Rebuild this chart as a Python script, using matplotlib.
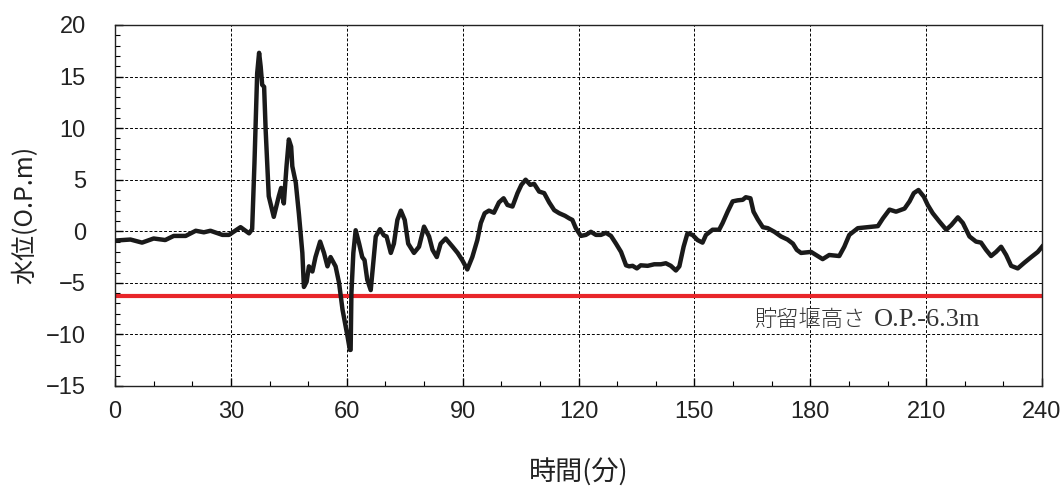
import matplotlib
matplotlib.use("Agg")
import matplotlib.pyplot as plt
from matplotlib.ticker import MultipleLocator

plt.rcParams['font.family'] = ['Liberation Sans', 'Noto Sans CJK JP', 'DejaVu Sans']
plt.rcParams['axes.unicode_minus'] = True

# Elapsed time (min) and water level (O.P.m)
time_min = [0, 4, 7, 10, 13, 15.2, 18.3, 20.9, 23, 24.7, 27.8, 29.5, 32.5, 34.7, 35.5,
            36.1, 36.8, 37.3, 37.7, 38.1, 38.6, 39.0, 39.8, 41.1, 42.4, 43.0, 43.7, 44.4,
            45.0, 45.6, 45.9, 46.8, 47.6, 48.5, 48.9, 49.6, 50.2, 51.1, 51.9, 53.1, 54.1,
            55.0, 55.8, 57.1, 58.0, 58.9, 60.2, 60.8, 61.0, 61.2, 61.7, 62.3, 63.2, 64.0,
            64.6, 65.3, 66.2, 66.6, 67.5, 68.6, 69.6, 70.3, 71.4, 72.2, 73.1, 74.0, 75.0,
            75.9, 77.4, 78.7, 80.0, 81.3, 82.2, 83.3, 84.3, 85.6, 87.4, 88.7, 89.9, 91.2,
            92.5, 93.8, 94.7, 95.7, 96.8, 98.1, 99.4, 100.6, 101.6, 102.9, 104.2, 105.2,
            106.3, 107.5, 108.5, 109.8, 111.1, 112.4, 113.7, 115.0, 116.5, 117.6, 118.4,
            119.3, 120.6, 121.9, 123.2, 124.5, 125.8, 127.1, 128.4, 129.7, 131.0, 132.3,
            133.1, 134.0, 135.1, 136.1, 137.9, 139.6, 141.3, 142.6, 143.9, 145.2, 146.1,
            147.2, 148.2, 149.5, 150.8, 152.1, 153.0, 154.7, 156.4, 157.3, 158.6, 159.9,
            161.2, 162.5, 163.3, 164.5, 165.3, 166.4, 167.7, 169.0, 170.7, 172.4, 174.1,
            175.5, 176.5, 177.6, 180.2, 181.5, 183.2, 184.9, 187.5, 188.8, 190.1, 192.3,
            194.9, 197.5, 198.8, 200.5, 202.2, 204.4, 205.7, 206.8, 208.0, 209.4, 210.4,
            211.7, 213.4, 215.2, 216.5, 218.2, 219.5, 221.2, 222.9, 224.2, 225.5, 226.8,
            228.1, 229.4, 230.7, 232.0, 233.7, 235.4, 237.2, 238.9, 240.0]
water_level = [-0.9, -0.8, -1.1, -0.7, -0.85, -0.45, -0.45, 0.05, -0.1, 0.05, -0.35, -0.35,
               0.4, -0.2, 0.2, 6.6, 15.3, 17.3, 16.0, 14.2, 14.0, 9.8, 3.4, 1.4, 3.4, 4.2,
               2.7, 6.3, 8.9, 8.2, 6.3, 4.7, 1.7, -2.1, -5.4, -4.9, -3.4, -3.9, -2.5, -1.0,
               -2.1, -3.4, -2.5, -3.4, -5.0, -7.6, -10.2, -11.5, -11.5, -6.0, -2.1, 0.1,
               -1.2, -2.5, -2.8, -4.7, -5.7, -4.1, -0.5, 0.2, -0.4, -0.5, -2.1, -1.2, 1.1,
               2.0, 1.1, -1.2, -2.1, -1.5, 0.45, -0.5, -1.8, -2.5, -1.2, -0.7, -1.5, -2.1,
               -2.8, -3.7, -2.5, -0.85, 0.8, 1.75, 2.0, 1.8, 2.8, 3.2, 2.55, 2.4, 3.7, 4.5,
               5.0, 4.5, 4.6, 3.85, 3.7, 2.8, 2.05, 1.75, 1.5, 1.25, 1.1, 0.3, -0.45, -0.35,
               -0.05, -0.35, -0.35, -0.15, -0.45, -1.2, -2.0, -3.3, -3.4, -3.35, -3.6, -3.3,
               -3.35, -3.2, -3.2, -3.1, -3.35, -3.8, -3.4, -1.5, -0.2, -0.35, -0.85, -1.1,
               -0.35, 0.15, 0.15, 0.8, 1.9, 2.9, 3.0, 3.05, 3.3, 3.2, 1.9, 1.15, 0.4, 0.3,
               -0.05, -0.5, -0.8, -1.2, -1.8, -2.1, -2.0, -2.3, -2.7, -2.3, -2.4, -1.5,
               -0.35, 0.3, 0.4, 0.5, 1.25, 2.1, 1.9, 2.2, 2.9, 3.7, 4.0, 3.35, 2.55, 1.75,
               0.95, 0.15, 0.6, 1.35, 0.8, -0.5, -1.0, -1.1, -1.8, -2.4, -2.0, -1.5, -2.3,
               -3.35, -3.6, -3.05, -2.5, -2.0, -1.5]

weir_height = -6.3
weir_name = "貯留堰高さ"
weir_value = "O.P.-6.3m"
x_ticks = [0, 30, 60, 90, 120, 150, 180, 210, 240]
y_ticks = [-15, -10, -5, 0, 5, 10, 15, 20]

fig = plt.figure(figsize=(10.63, 4.87), dpi=100)
ax = fig.add_axes([0.1082, 0.2074, 0.8721, 0.7413])

ax.plot(time_min, water_level, color='#1a1a1a', lw=3.2, solid_joinstyle='round', zorder=3)
ax.axhline(weir_height, color='#e8262a', lw=3.0, zorder=2)

ax.set_xlim(0, 240)
ax.set_ylim(-15, 20)
ax.set_xticks(x_ticks)
ax.set_yticks(y_ticks)
ax.xaxis.set_minor_locator(MultipleLocator(10))
ax.yaxis.set_minor_locator(MultipleLocator(1))
ax.tick_params(which='both', direction='in', top=False, right=False,
               labelsize=17, labelcolor='#222222')
ax.tick_params(axis='x', which='major', pad=11)
ax.tick_params(axis='y', which='major', pad=21)
ax.tick_params(which='major', length=6, width=1)
ax.tick_params(which='minor', length=3.5, width=0.8)
ax.grid(True, which='major', color='black', linestyle=(0, (3, 2)), linewidth=0.7)
for sp in ax.spines.values():
    sp.set_linewidth(1.0)
    sp.set_color('#222222')

# Weir crest label: Japanese name followed by the serif level value
label_x, label_y = 165.5, -9.2
ax.annotate(weir_name, xy=(label_x, label_y), xytext=(0, 0), textcoords='offset points',
            fontsize=16, color='#333333', va='baseline', ha='left',
            family=['Noto Sans CJK JP'], fontweight='light', zorder=4)
ax.annotate(weir_value, xy=(label_x, label_y), xytext=(86, 0), textcoords='offset points',
            fontsize=19, color='#333333', va='baseline', ha='left',
            family=['Liberation Serif'], zorder=4)

fig.text(0.544, 0.029, "時間(分)", fontsize=19.5, ha='center', va='center',
         family=['Noto Sans CJK JP', 'DejaVu Sans'], color='#222222')
fig.text(0.0235, 0.558, "水位(O.P.m)", fontsize=18, ha='center', va='center', rotation=90,
         family=['Noto Sans CJK JP', 'DejaVu Sans'], color='#222222')

fig.savefig("out.png", dpi=100)
